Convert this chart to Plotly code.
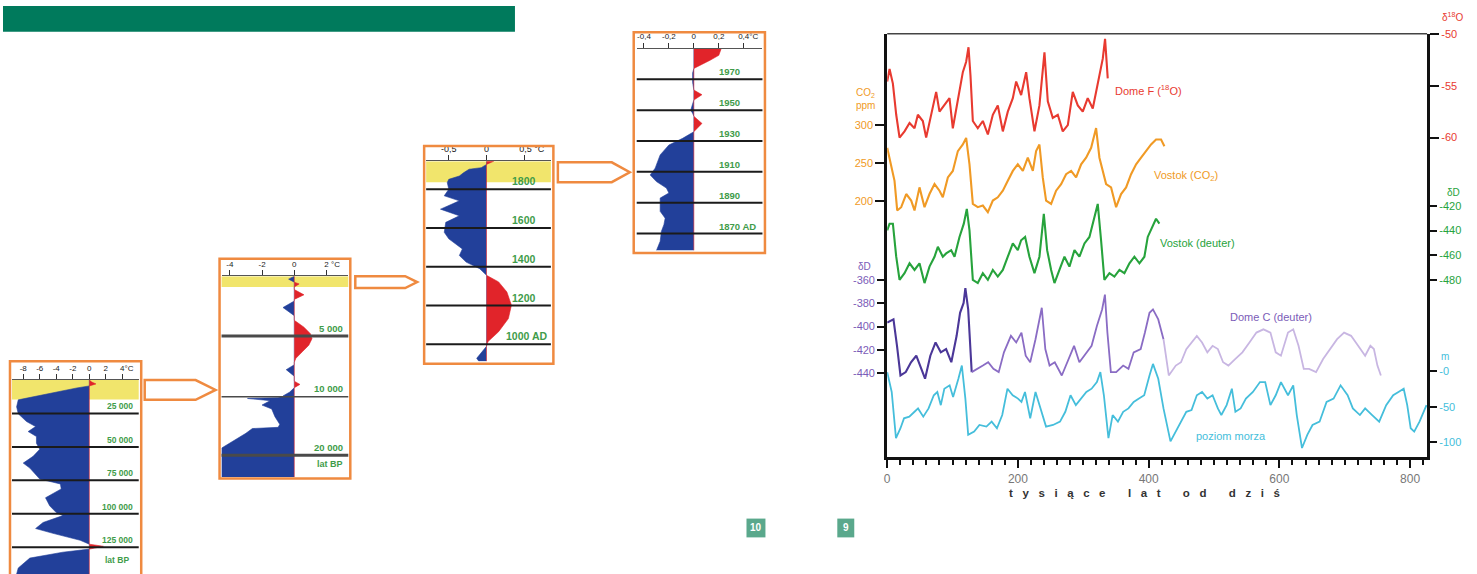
import plotly.graph_objects as go

W, H = 1477, 574

# ---------------- Panel 1: last ~145 000 years (lat BP), temperature anomaly (°C)
p1_years = [0, 1500, 2900, 4400, 5900, 10400, 14800, 20000, 25200, 31000, 34800, 38500, 42200, 47300,
            51800, 57000, 62100, 65800, 70300, 74000, 77700, 81400, 88000, 94000, 99100, 101300, 106500,
            111000, 114600, 119800, 122700, 124300, 126400, 128700, 133100, 140500, 145000]
p1_temp = [0, 0.3, 0.8, 0, -1.5, -5.0, -8.6, -8.8, -8.6, -7.6, -6.5, -7.4, -6.4, -6.4,
           -6.0, -6.8, -8.0, -7.2, -6.5, -6.0, -3.5, -3.4, -5.3, -4.8, -4.0, -3.2, -5.6,
           -6.5, -4.4, -1.1, 0, 1.7, 0, -3.2, -7.2, -8.6, -8.8]
p1_lines = [25000, 50000, 75000, 100000, 125000]
p1_labels = ["25 000", "50 000", "75 000", "100 000", "125 000"]
p1_ticks = [-8, -6, -4, -2, 0, 2, 4]
p1_ticktext = ["-8", "-6", "-4", "-2", "0", "2", "\u00a0\u00a0\u00a0\u00a04°C"]

# ---------------- Panel 2: last ~23 000 years (two scales: 0-10 000 and 10 000-23 000)
p2a_years = [0, 250, 500, 650, 900, 1120, 1560, 1940, 2080, 2620, 3300, 3690, 4260, 4810, 5220, 5770,
             6310, 6860, 7200, 7400, 7810, 8360, 8770, 9040, 9320, 9700, 10000]
p2a_temp = [0, -0.35, 0, 0.3, 0, 0, 0.6, 0, 0, -0.7, 0, 0, 0.6, 1.0, 1.1, 0.9,
            0.5, 0.1, 0, 0, -0.5, 0, 0, 0.35, 0, -0.3, -0.7]
p2b_years = [10000, 10300, 10440, 10800, 11550, 12200, 13500, 14800, 15300, 15500, 16300, 18780, 23700]
p2b_temp = [-0.7, -1.0, -2.9, -1.5, -2.0, -1.4, -1.2, -0.9, -1.0, -2.6, -3.0, -4.5, -4.5]
p2_lines_a = [5000]
p2_labels_a = ["5 000"]
p2_lines_b = [10000, 20000]
p2_labels_b = ["10 000", "20 000"]
p2_ticks = [-4, -2, 0, 2]
p2_ticktext = ["-4", "-2", "0", "\u00a0\u00a0\u00a0\u00a0\u00a02 °C"]

# ---------------- Panel 3: AD 900 - 1940
p3_years = [1945, 1928, 1911, 1903, 1886, 1868, 1851, 1834, 1800, 1766, 1740, 1697, 1663, 1629, 1578,
            1544, 1492, 1458, 1424, 1390, 1356, 1322, 1270, 1202, 1133, 1065, 1014, 990, 928, 912]
p3_temp = [0.1, 0, -0.07, -0.23, -0.3, -0.36, -0.5, -0.52, -0.5, -0.56, -0.36, -0.61, -0.36, -0.54, -0.56,
           -0.5, -0.32, -0.36, -0.27, -0.09, 0, 0.16, 0.27, 0.33, 0.29, 0.16, 0.02, 0, -0.13, -0.1]
p3_lines = [1800, 1600, 1400, 1200, 1000]
p3_labels = ["1800", "1600", "1400", "1200", "1000 AD"]
p3_ticks = [-0.5, 0, 0.5]
p3_ticktext = ["-0,5", "0", "\u00a0\u00a0\u00a0\u00a0\u00a0\u00a00,5 °C"]

# ---------------- Panel 4: AD 1860 - 1990
p4_years = [1990, 1985.5, 1982.3, 1979, 1977, 1974, 1968, 1963, 1960, 1956.5, 1954, 1951, 1950, 1948,
            1946, 1941.4, 1936, 1931.7, 1927.4, 1921, 1916.6, 1912.4, 1908, 1903.7, 1899.5, 1896.3,
            1893, 1884.4, 1880, 1875.8, 1871.5, 1865, 1859]
p4_temp = [0.22, 0.2, 0.13, 0.05, 0, -0.01, -0.01, 0, 0.065, 0, -0.01, -0.02, -0.025, -0.01,
           0, 0.065, 0, -0.09, -0.2, -0.27, -0.29, -0.31, -0.35, -0.3, -0.22, -0.2,
           -0.27, -0.27, -0.23, -0.24, -0.26, -0.27, -0.3]
p4_lines = [1970, 1950, 1930, 1910, 1890, 1870]
p4_labels = ["1970", "1950", "1930", "1910", "1890", "1870 AD"]
p4_ticks = [-0.4, -0.2, 0, 0.2, 0.4]
p4_ticktext = ["-0,4", "-0,2", "0", "0,2", "\u00a0\u00a0\u00a0\u00a00,4°C"]

# ---------------- Right chart: ice-core records, thousand years before present
df_age = [0, 3.6, 8.7, 13.8, 18.9, 26.5, 34.2, 41.8, 46.9, 54.5, 59.6, 67.3, 74.9, 80.0, 87.7, 95.3,
          100.4, 108.1, 115.7, 120.8, 124.4, 127.4, 131.0, 138.6, 146.3, 154.0, 161.6, 169.2, 176.9,
          184.5, 192.2, 197.3, 204.9, 212.6, 217.6, 225.3, 232.9, 240.6, 245.7, 253.3, 261.0, 268.6,
          276.3, 283.9, 291.6, 299.2, 306.8, 314.5, 319.6, 324.7, 329.8, 333.3, 337.4]
df_d18o = [-54.6, -53.4, -54.8, -57.8, -60.0, -59.4, -58.6, -59.1, -57.8, -58.4, -60.0, -57.8, -55.6,
           -57.5, -56.9, -56.2, -59.1, -56.5, -53.7, -52.7, -51.3, -54.0, -58.4, -59.1, -58.4, -59.7,
           -57.8, -56.9, -59.4, -57.5, -56.2, -54.6, -55.9, -53.7, -56.2, -59.4, -56.9, -51.8, -56.5,
           -58.1, -57.8, -59.4, -58.8, -55.6, -56.9, -57.5, -56.2, -57.2, -55.6, -53.7, -52.4, -50.5,
           -54.3]

co2_age = [0, 3.6, 11.2, 15.3, 21.4, 29.1, 36.7, 41.8, 49.4, 57.1, 64.7, 72.4, 80.0, 85.1, 92.8,
           100.4, 108.1, 115.7, 120.8, 125.9, 131.0, 138.6, 146.3, 154.0, 161.6, 169.2, 176.9, 184.5,
           192.2, 199.8, 207.5, 215.1, 222.8, 227.8, 232.9, 238.0, 243.1, 250.8, 258.4, 266.1, 273.7,
           281.4, 289.0, 296.7, 304.3, 312.0, 319.6, 324.7, 329.8, 334.9, 342.5, 350.2, 357.8, 365.5,
           373.1, 380.8, 388.4, 396.0, 403.7, 411.3, 419.0, 424.1]
co2_ppm = [269.7, 256.7, 226.4, 187.5, 191.8, 209.1, 200.5, 187.5, 217.8, 191.8, 209.1, 222.1, 213.4,
           204.8, 230.8, 239.4, 265.4, 274.1, 282.7, 248.1, 196.1, 191.8, 194.0, 185.3, 200.5, 204.8,
           213.4, 226.4, 239.4, 248.1, 239.4, 256.7, 239.4, 265.4, 274.1, 230.8, 200.5, 196.1, 213.4,
           222.1, 235.1, 239.4, 230.8, 248.1, 256.7, 269.7, 295.7, 256.7, 239.4, 222.1, 217.8, 191.8,
           209.1, 217.8, 235.1, 248.1, 256.7, 265.4, 274.1, 280.6, 280.6, 271.9]

vd_age = [0, 3.6, 8.7, 13.8, 18.9, 26.5, 34.2, 41.8, 49.4, 57.1, 64.7, 72.4, 77.5, 85.1, 90.2, 97.9,
          103.0, 110.6, 117.2, 121.8, 125.9, 131.0, 138.6, 146.3, 154.0, 161.6, 169.2, 176.9, 184.5,
          192.2, 199.8, 204.9, 211.0, 217.6, 225.3, 232.9, 239.6, 244.7, 250.8, 255.9, 263.5, 271.2,
          278.8, 286.5, 294.1, 301.8, 309.4, 317.1, 322.1, 327.2, 332.3, 340.0, 347.6, 355.3, 362.9,
          370.6, 378.2, 385.9, 393.5, 398.6, 406.2, 411.3, 416.4]
vd_dD = [-439.8, -434.4, -434.4, -461.1, -479.8, -474.4, -466.4, -471.8, -466.4, -482.4, -469.1,
         -461.1, -453.1, -461.1, -458.4, -455.8, -461.1, -445.1, -434.4, -422.4, -439.8, -479.8,
         -482.4, -474.4, -479.8, -471.8, -477.1, -471.8, -461.1, -450.4, -455.8, -447.8, -445.1,
         -461.1, -474.4, -461.1, -426.4, -455.8, -471.8, -482.4, -471.8, -461.1, -469.1, -455.8,
         -461.1, -450.4, -445.1, -429.1, -418.4, -447.8, -479.8, -474.4, -477.1, -471.8, -474.4,
         -466.4, -461.1, -466.4, -461.1, -445.1, -437.1, -430.4, -434.4]

dc_age = [0, 9.6, 15.0, 20.3, 28.4, 36.4, 44.5, 49.9, 57.9, 66.0, 74.0, 82.0, 90.1, 98.1, 106.2,
          111.5, 116.9, 119.6, 123.9, 129.3, 138.4, 146.4, 154.5, 162.5, 170.6, 178.6, 189.3, 197.4,
          205.4, 211.9, 218.8, 226.9, 236.5, 241.9, 248.4, 256.4, 267.1, 275.2, 285.9, 294.0, 302.0,
          312.7, 320.8, 328.8, 333.1, 336.9, 342.2, 350.3, 361.0, 369.1, 377.1, 387.8, 394.3, 401.3,
          406.6, 414.7, 422.7, 430.8, 441.5, 449.5, 457.6, 465.6, 473.7, 481.7, 489.8, 497.8, 505.9,
          513.9, 522.0, 532.7, 543.4, 554.2, 564.9, 575.6, 586.3, 594.4, 602.4, 613.2, 621.2, 629.3,
          637.3, 645.4, 656.1, 666.9, 677.6, 688.3, 699.0, 709.7, 720.5, 731.2, 739.2, 744.6, 750.0,
          755.3]
dc_dD = [-396.6, -393.8, -416.5, -442.0, -439.1, -430.6, -425.0, -433.5, -444.8, -425.0,
         -413.6, -422.1, -419.3, -430.6, -407.9, -388.1, -379.6, -366.8, -385.2, -439.1,
         -436.3, -433.5, -430.6, -436.3, -439.1, -422.1, -407.9, -413.6, -405.1, -425.0,
         -430.6, -410.8, -383.8, -419.3, -433.5, -430.6, -442.0, -430.6, -416.5, -430.6,
         -425.0, -416.5, -399.4, -385.2, -372.5, -405.1, -439.1, -439.1, -433.5, -436.3,
         -422.1, -419.3, -405.1, -388.1, -385.2, -393.8, -410.8, -442.0, -433.5, -430.6,
         -419.3, -413.6, -407.9, -413.6, -422.1, -416.5, -419.3, -430.6, -433.5, -427.8,
         -422.1, -413.6, -405.1, -402.3, -405.1, -422.1, -425.0, -405.1, -402.3, -416.5,
         -436.3, -436.3, -439.1, -427.8, -419.3, -410.8, -405.1, -407.9, -416.5, -425.0,
         -416.5, -419.3, -433.5, -442.0]
dc_phase_edges = [0, 129.3, 422.7, 760]

sl_age = [0, 6.9, 13.4, 20.3, 25.7, 33.8, 41.8, 47.2, 55.2, 63.3, 71.3, 76.7, 82.0, 87.4, 95.5,
          100.8, 108.9, 114.2, 119.6, 123.9, 133.0, 141.1, 151.8, 159.8, 167.9, 176.0, 184.0, 192.0,
          200.1, 205.4, 210.8, 218.8, 226.9, 235.0, 243.0, 253.7, 264.4, 272.5, 280.5, 288.6, 296.6,
          304.7, 312.7, 320.8, 326.1, 331.5, 338.5, 344.9, 353.0, 361.0, 369.1, 377.1, 385.2, 393.2,
          401.3, 406.6, 414.7, 422.7, 433.4, 441.5, 449.5, 457.6, 465.6, 473.7, 481.7, 489.8, 497.8,
          505.9, 511.2, 519.3, 527.3, 532.7, 540.7, 548.8, 559.5, 570.3, 578.3, 586.3, 594.4, 602.4,
          613.2, 621.2, 626.6, 634.6, 642.7, 650.7, 661.5, 672.2, 682.9, 693.6, 704.4, 712.4, 723.2,
          731.2, 741.9, 752.7, 763.4, 774.1, 782.2, 790.2, 795.6, 800.9, 806.3, 814.4, 825.1]
sl_m = [-1.4, -29.2, -94.0, -80.1, -66.2, -63.9, -57.0, -52.3, -63.9, -52.3,
        -33.8, -29.2, -47.7, -24.6, -19.9, -36.1, -10.7, 7.9, -38.5, -89.4,
        -84.8, -75.5, -77.8, -70.9, -80.1, -61.6, -24.6, -33.8, -38.5, -43.1,
        -29.2, -66.2, -29.2, -52.3, -77.8, -75.5, -70.9, -57.0, -33.8, -47.7,
        -38.5, -29.2, -24.6, -15.3, -1.4, -33.8, -94.0, -61.6, -70.9, -57.0,
        -52.3, -43.1, -38.5, -33.8, -6.0, 10.2, -10.7, -52.3, -98.6, -84.8,
        -70.9, -57.0, -54.7, -33.8, -29.2, -38.5, -33.8, -52.3, -61.6, -47.7,
        -24.6, -57.0, -52.3, -38.5, -29.2, -15.3, -15.3, -47.7, -33.8, -15.3,
        -33.8, -19.9, -61.6, -107.9, -89.4, -75.5, -70.9, -43.1, -38.5, -19.9,
        -33.8, -52.3, -61.6, -52.3, -61.6, -70.9, -47.7, -33.8, -29.2, -24.6,
        -47.7, -80.1, -84.8, -70.9, -47.7]

x_major = [0, 200, 400, 600, 800]
co2_ticks = [200, 250, 300]
d18o_ticks = [-60, -55, -50]
vd_ticks = [-480, -460, -440, -420]
dc_ticks = [-440, -420, -400, -380, -360]
dc_ticktext = ["-440", "-420", "-400", "-380", "-360"]
vd_ticktext = ["-480", "-460", "-440", "-420"]
d18o_ticktext = ["-60", "-55", "-50"]
sl_ticks = [-100, -50, 0]
sl_ticktext = ["-100", "-50", "-0"]

# ---------------- styling
FONT = "Liberation Sans, Arial, sans-serif"
BLUE = "#22409a"
RED = "#e1242a"
YELLOW = "#f1e56c"
ORANGE_BOX = "#ef8a40"
LBL_GREEN = "#3f9c4a"
C_RED = "#e83a30"
C_ORANGE = "#f09a25"
C_GREEN = "#27a33c"
C_PURPLE = ["#4b3798", "#8a6cc4", "#c8b6e2"]
C_PURPLE_TXT = "#7b5cb8"
C_CYAN = "#45bedb"


def X(px):
    return px / W


def Y(py):
    return 1 - py / H


fig = go.Figure()
shapes = []
annotations = []


def add_fill(xa, ya, years, temps):
    neg = [min(t, 0) for t in temps]
    pos = [max(t, 0) for t in temps]
    fig.add_trace(go.Scatter(x=neg, y=years, xaxis=xa, yaxis=ya, mode="lines",
                             line=dict(color=BLUE, width=0.6), fill="tozerox", fillcolor=BLUE,
                             hoverinfo="skip", showlegend=False))
    fig.add_trace(go.Scatter(x=pos, y=years, xaxis=xa, yaxis=ya, mode="lines",
                             line=dict(color=RED, width=0.6), fill="tozerox", fillcolor=RED,
                             hoverinfo="skip", showlegend=False))


def hlines(xa, ya, values, color="#1b1b1b", width=2):
    for v in values:
        shapes.append(dict(type="line", xref=f"{xa} domain", x0=0, x1=1, yref=ya, y0=v, y1=v,
                           line=dict(color=color, width=width), layer="above"))


def labels(ya, values, texts, xpx, anchor, size):
    for v, t in zip(values, texts):
        annotations.append(dict(text=f"<b>{t}</b>", xref="paper", x=X(xpx), xanchor=anchor,
                                yref=ya, y=v, yanchor="bottom", yshift=0, showarrow=False,
                                font=dict(family=FONT, size=size, color=LBL_GREEN)))


def yellow(xa, ya, y0, y1):
    shapes.append(dict(type="rect", xref=f"{xa} domain", x0=0, x1=1, yref=ya, y0=y0, y1=y1,
                       fillcolor=YELLOW, line=dict(width=0), layer="below"))


def panel_xaxis(dom, rng, anchor, ticks, ticktext, size=8):
    return dict(domain=[X(dom[0]), X(dom[1])], range=rng, anchor=anchor, side="top",
                tickmode="array", tickvals=ticks, ticktext=ticktext, ticks="outside", ticklen=5,
                tickwidth=1, tickcolor="#333", tickfont=dict(family=FONT, size=size, color="#222"),
                showline=True, linecolor="#555", linewidth=1, showgrid=False, zeroline=False,
                fixedrange=True)


def panel_yaxis(dom, rng, anchor):
    return dict(domain=[max(0.0, Y(dom[1])), Y(dom[0])], range=rng, anchor=anchor, visible=False,
                showgrid=False, zeroline=False, fixedrange=True)


# ---- panel traces
add_fill("x", "y", p1_years, p1_temp)
add_fill("x2", "y2", p2a_years, p2a_temp)
add_fill("x3", "y3", p2b_years, p2b_temp)
add_fill("x4", "y4", p3_years, p3_temp)
add_fill("x5", "y5", p4_years, p4_temp)

yellow("x", "y", 0, 14500)
yellow("x2", "y2", 0, 900)
yellow("x4", "y4", 1836, 1943.6)

hlines("x", "y", p1_lines)
hlines("x2", "y2", p2_lines_a, color="#4a4a4a", width=3)
hlines("x3", "y3", p2_lines_b, color="#4a4a4a", width=3)
hlines("x4", "y4", p3_lines)
hlines("x5", "y5", p4_lines)

labels("y", p1_lines, p1_labels, 132, "right", 8.5)
labels("y2", p2_lines_a, p2_labels_a, 343, "right", 9.5)
labels("y3", p2_lines_b, p2_labels_b, 343, "right", 9.5)
labels("y4", p3_lines[:4], p3_labels[:4], 508, "left", 10.5)
labels("y4", p3_lines[4:], p3_labels[4:], 502, "left", 10.5)
labels("y5", p4_lines, p4_labels, 715, "left", 9.5)
for txt, xpx, ypx, size in [("lat BP", 100, 560, 8.5), ("lat BP", 313, 463, 9)]:
    annotations.append(dict(text=f"<b>{txt}</b>", xref="paper", yref="paper", x=X(xpx), y=Y(ypx),
                            xanchor="left", yanchor="middle", showarrow=False,
                            font=dict(family=FONT, size=size, color=LBL_GREEN)))

# ---- orange panel borders and arrows
for x0, x1, y0, y1 in [(7, 138.5, 359, 578), (217, 348, 255.5, 477.5), (422, 551.5, 141.5, 361.5),
                       (632, 763.5, 26.5, 249.5)]:
    shapes.append(dict(type="rect", xref="paper", yref="paper", x0=X(x0), x1=X(x1), y0=Y(y1), y1=Y(y0),
                       line=dict(color=ORANGE_BOX, width=2.5), fillcolor="rgba(0,0,0,0)", layer="above"))


def arrow(xl, xr, xt, yt, yb):
    ym = (yt + yb) / 2
    pts = [(xl, yt), (xr, yt), (xt, ym), (xr, yb), (xl, yb)]
    p = "M " + " L ".join(f"{X(a):.5f},{Y(b):.5f}" for a, b in pts) + " Z"
    shapes.append(dict(type="path", xref="paper", yref="paper", path=p,
                       line=dict(color=ORANGE_BOX, width=2.5), fillcolor="white", layer="above"))


arrow(142, 193, 213, 378, 398)
arrow(353, 403, 415, 273, 285)
arrow(556, 610, 628, 158, 178)

# ---- right chart traces
LW = 2.1
fig.add_trace(go.Scatter(x=sl_age, y=sl_m, xaxis="x6", yaxis="y10", mode="lines",
                         line=dict(color=C_CYAN, width=1.8), hoverinfo="skip", showlegend=False))
for i in range(3):
    lo, hi = dc_phase_edges[i], dc_phase_edges[i + 1]
    xs = [a for a in dc_age if lo <= a <= hi]
    ys = [v for a, v in zip(dc_age, dc_dD) if lo <= a <= hi]
    fig.add_trace(go.Scatter(x=xs, y=ys, xaxis="x6", yaxis="y9", mode="lines",
                             line=dict(color=C_PURPLE[i], width=LW if i == 0 else 1.8),
                             hoverinfo="skip", showlegend=False))
fig.add_trace(go.Scatter(x=vd_age, y=vd_dD, xaxis="x6", yaxis="y8", mode="lines",
                         line=dict(color=C_GREEN, width=LW), hoverinfo="skip", showlegend=False))
fig.add_trace(go.Scatter(x=co2_age, y=co2_ppm, xaxis="x6", yaxis="y6", mode="lines",
                         line=dict(color=C_ORANGE, width=LW), hoverinfo="skip", showlegend=False))
fig.add_trace(go.Scatter(x=df_age, y=df_d18o, xaxis="x6", yaxis="y7", mode="lines",
                         line=dict(color=C_RED, width=LW), hoverinfo="skip", showlegend=False))

# right chart frame top line
shapes.append(dict(type="line", xref="paper", yref="paper", x0=X(886), x1=X(1427), y0=Y(28), y1=Y(28),
                   line=dict(color="#444", width=1.5)))

# banner and page numbers
shapes.append(dict(type="rect", xref="paper", yref="paper", x0=0, x1=X(513), y0=Y(26), y1=1,
                   fillcolor="#007a5c", line=dict(width=0)))
for x0, x1, txt in [(745, 764, "10"), (836, 853, "9")]:
    shapes.append(dict(type="rect", xref="paper", yref="paper", x0=X(x0), x1=X(x1), y0=Y(537), y1=Y(518),
                       fillcolor="#5aa88c", line=dict(width=0)))
    annotations.append(dict(text=f"<b>{txt}</b>", xref="paper", yref="paper", x=X((x0 + x1) / 2),
                            y=Y(527.5), xanchor="center", yanchor="middle", showarrow=False,
                            font=dict(family=FONT, size=10, color="white")))


def note(text, xpx, ypx, color, size=11, xanchor="left"):
    annotations.append(dict(text=text, xref="paper", yref="paper", x=X(xpx), y=Y(ypx), xanchor=xanchor,
                            yanchor="middle", showarrow=False, font=dict(family=FONT, size=size, color=color)))


note("Dome F (<sup>18</sup>O)", 1112, 85, C_RED)
note("Vostok (CO<sub>2</sub>)", 1151, 172, C_ORANGE)
note("Vostok (deuter)", 1157, 240, C_GREEN)
note("Dome C (deuter)", 1227, 314, C_PURPLE_TXT)
note("poziom morza", 1193, 435, C_CYAN)
note("CO<sub>2</sub>", 864, 88, C_ORANGE, 10, "center")
note("ppm", 864, 101, C_ORANGE, 10, "center")
note("δD", 863, 263, C_PURPLE_TXT, 10, "center")
note("δ<sup>18</sup>O", 1452, 11, C_RED, 10, "center")
note("δD", 1453, 188, C_GREEN, 10, "center")
note("m", 1445, 354, C_CYAN, 10, "center")

sp = "\u00a0" * 3
wsp = "\u00a0" * 7
title = wsp.join(sp.join(list(w)) for w in ["tysiące", "lat", "od", "dziś"])
note(f"<b>{title}</b>", 1144, 492, "#333", 11.5, "center")

tick_common = dict(ticks="outside", ticklen=9, tickwidth=2, tickcolor="#111", showgrid=False,
                   zeroline=False, fixedrange=True, tickmode="array")
rdom = [Y(456), Y(28)]

fig.update_layout(
    width=W, height=H, margin=dict(l=0, r=0, t=0, b=0), paper_bgcolor="white",
    plot_bgcolor="rgba(0,0,0,0)", hovermode=False, showlegend=False,
    font=dict(family=FONT),
    xaxis=panel_xaxis((9, 136), [-9.36, 5.98], "y", p1_ticks, p1_ticktext, 8),
    yaxis=panel_yaxis((378, 574), [145000, 0], "x"),
    xaxis2=panel_xaxis((219, 346), [-4.51, 3.35], "y2", p2_ticks, p2_ticktext, 8),
    yaxis2=panel_yaxis((273, 394), [10000, 0], "x2"),
    xaxis3=dict(domain=[X(219), X(346)], range=[-4.51, 3.35], anchor="y3", visible=False, fixedrange=True),
    yaxis3=panel_yaxis((394, 476), [23670, 10000], "x3"),
    xaxis4=panel_xaxis((424, 549), [-0.80, 0.853], "y4", p3_ticks, p3_ticktext, 9),
    yaxis4=panel_yaxis((157, 359), [912.8, 1943.6], "x4"),
    xaxis5=panel_xaxis((635, 761), [-0.458, 0.55], "y5", p4_ticks, p4_ticktext, 8),
    yaxis5=panel_yaxis((43, 247), [1859.1, 1989.9], "x5"),
    xaxis6=dict(domain=[X(886), X(1427)], range=[0, 826], anchor="y6", side="bottom",
                tickvals=x_major, showline=True, linecolor="#111", linewidth=3,
                ticks="outside", ticklen=8, tickwidth=2, tickcolor="#111", showgrid=False,
                zeroline=False, fixedrange=True, tickmode="array",
                tickfont=dict(family=FONT, size=12, color="#777"),
                minor=dict(dtick=20, ticks="outside", ticklen=5, tickwidth=2, tickcolor="#111")),
    yaxis6=dict(domain=rdom, range=[-136.4, 419.5], anchor="x6", side="left", tickvals=co2_ticks,
                tickfont=dict(family=FONT, size=11, color=C_ORANGE), showline=True, linecolor="#111",
                linewidth=3, **tick_common),
    yaxis7=dict(domain=rdom, range=[-90.76, -50], anchor="x6", overlaying="y6", side="right",
                tickvals=d18o_ticks, ticktext=d18o_ticktext, tickfont=dict(family=FONT, size=11, color=C_RED),
                showline=True, linecolor="#111", linewidth=3, **tick_common),
    yaxis8=dict(domain=rdom, range=[-623.2, -280.8], anchor="x6", overlaying="y6", side="right",
                tickvals=vd_ticks, ticktext=vd_ticktext, tickfont=dict(family=FONT, size=11, color=C_GREEN),
                showline=False, **tick_common),
    yaxis9=dict(domain=rdom, range=[-512.3, -148.1], anchor="x6", overlaying="y6", side="left",
                tickvals=dc_ticks, ticktext=dc_ticktext, tickfont=dict(family=FONT, size=11, color=C_PURPLE_TXT),
                showline=False, **tick_common),
    yaxis10=dict(domain=rdom, range=[-120.8, 473.6], anchor="x6", overlaying="y6", side="right",
                 tickvals=sl_ticks, ticktext=sl_ticktext, tickfont=dict(family=FONT, size=11, color=C_CYAN),
                 showline=False, **tick_common),
    shapes=shapes, annotations=annotations,
)

fig.write_html("out.html")
